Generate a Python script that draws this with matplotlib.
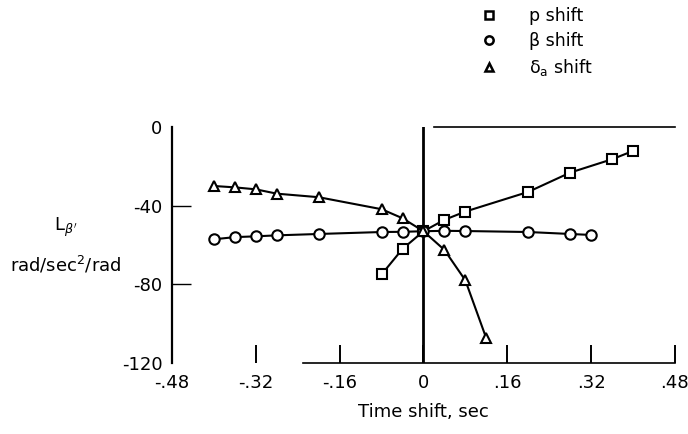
import matplotlib
matplotlib.use('Agg')
import matplotlib.pyplot as plt
from matplotlib.lines import Line2D

plt.rcParams['font.family'] = ['DejaVu Sans']
plt.rcParams['mathtext.fontset'] = 'dejavusans'

################################################################################
# Data (time shift in sec, L_beta' in rad/sec^2/rad)
p_shift_t = [-0.08, -0.04, 0.0, 0.04, 0.08, 0.20, 0.28, 0.36, 0.40]
p_shift_L = [-75.0, -62.0, -53.0, -47.2, -43.0, -33.0, -23.2, -16.4, -12.2]

beta_shift_t = [-0.40, -0.36, -0.32, -0.28, -0.20, -0.08, -0.04, 0.0,
                0.04, 0.08, 0.20, 0.28, 0.32]
beta_shift_L = [-57.1, -56.0, -55.6, -55.1, -54.4, -53.4, -53.3, -53.0,
                -52.8, -52.9, -53.4, -54.4, -54.9]

da_shift_t = [-0.40, -0.36, -0.32, -0.28, -0.20, -0.08, -0.04, 0.0,
              0.04, 0.08, 0.12]
da_shift_L = [-30.0, -30.7, -31.7, -33.9, -35.7, -41.8, -46.4, -53.0,
              -62.5, -78.0, -107.5]

x_ticks = [-0.48, -0.32, -0.16, 0.0, 0.16, 0.32, 0.48]
x_tick_labels = ['-.48', '-.32', '-.16', '0', '.16', '.32', '.48']
y_ticks = [0, -40, -80, -120]
y_tick_labels = ['0', '-40', '-80', '-120']

################################################################################
# Plot
fig = plt.figure(figsize=(6.88, 4.34), dpi=100)
ax = fig.add_axes([0.25, 0.1636, 0.731, 0.5438])

mk = dict(color='k', lw=1.5, mfc='white', mec='k', mew=1.5, ms=7.5, clip_on=False)
ax.plot(p_shift_t, p_shift_L, marker='s', **mk)
ax.plot(beta_shift_t, beta_shift_L, marker='o', **mk)
ax.plot(da_shift_t, da_shift_L, marker='^', **mk)

ax.axvline(0, color='k', lw=2.0, zorder=1)

ax.set_xlim(-0.48, 0.48)
ax.set_ylim(-120, 0)

ax.spines['right'].set_visible(False)
ax.spines['left'].set_linewidth(1.6)
ax.spines['bottom'].set_linewidth(1.2)
ax.spines['top'].set_linewidth(1.2)
ax.spines['bottom'].set_bounds(-0.23, 0.48)
ax.spines['top'].set_bounds(0.02, 0.48)

ax.set_xticks(x_ticks)
ax.set_xticklabels(x_tick_labels, fontsize=13)
ax.set_yticks(y_ticks)
ax.set_yticklabels(y_tick_labels, fontsize=13)
ax.tick_params(axis='x', direction='in', length=13, width=1.4, pad=8)
ax.tick_params(axis='y', direction='in', length=14, width=1.0, pad=7)
ax.xaxis.get_major_ticks()[0].tick1line.set_visible(False)
ax.yaxis.get_major_ticks()[0].tick1line.set_visible(False)
ax.yaxis.get_major_ticks()[-1].tick1line.set_visible(False)

ax.set_xlabel('Time shift, sec', fontsize=13, labelpad=8)

fig.text(0.095, 0.475, "L$_{\\beta'}$", fontsize=13, ha='center', va='center')
fig.text(0.095, 0.39, 'rad/sec$^{2}$/rad', fontsize=13, ha='center', va='center')

# Legend
handles = [Line2D([], [], ls='none', marker='s', mfc='white', mec='k', mew=1.8, ms=6),
           Line2D([], [], ls='none', marker='o', mfc='white', mec='k', mew=1.8, ms=6),
           Line2D([], [], ls='none', marker='^', mfc='white', mec='k', mew=1.8, ms=6)]
labels = ['p shift', '\u03b2 shift', '\u03b4$_{\\mathrm{a}}$ shift']
fig.legend(handles, labels, loc='upper left', bbox_to_anchor=(0.688, 1.0),
           frameon=False, fontsize=12.5, handlelength=1.0, handletextpad=1.8,
           labelspacing=0.4, borderaxespad=0)

fig.savefig('out.png', dpi=100)
